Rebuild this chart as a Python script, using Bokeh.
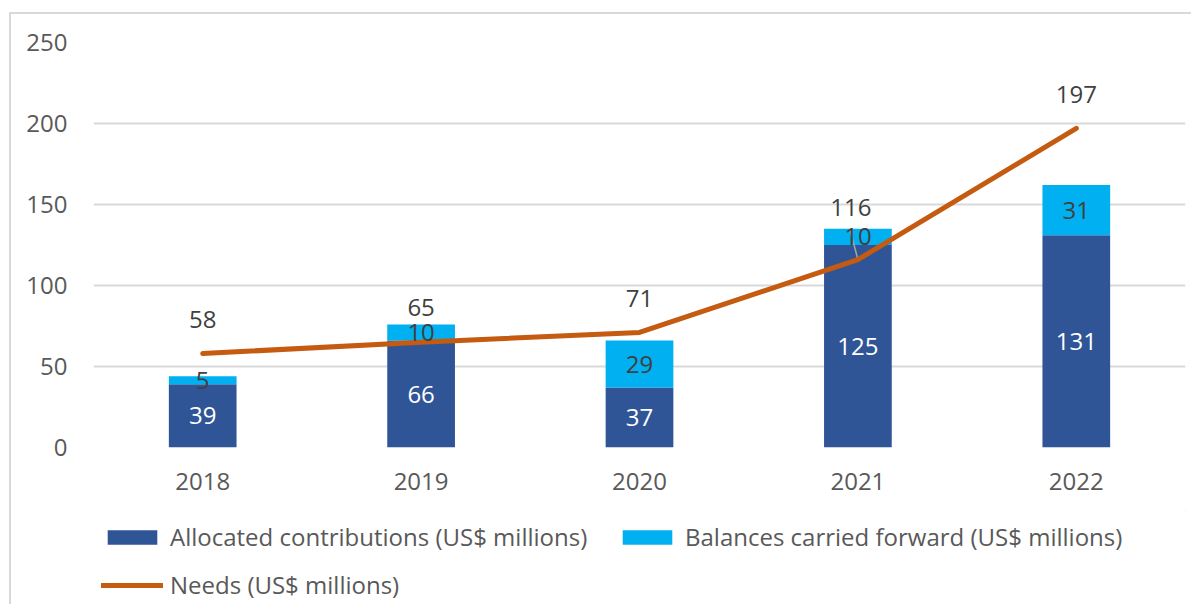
from bokeh.plotting import figure
from bokeh.layouts import column
from bokeh.models import ColumnDataSource, Legend, LegendItem, FixedTicker, Range1d
from bokeh.core.properties import value
from bokeh.embed import file_html
from bokeh.resources import INLINE

years = ["2018", "2019", "2020", "2021", "2022"]
allocated = [39, 66, 37, 125, 131]
balances = [5, 10, 29, 10, 31]
needs = [58, 65, 71, 116, 197]
y_ticks = [0, 50, 100, 150, 200, 250]
labels = ["Allocated contributions (US$ millions)",
          "Balances carried forward (US$ millions)",
          "Needs (US$ millions)"]

FONT = value("Open Sans")
DARK = "#2F5597"
LIGHT = "#00B0F0"
ORANGE = "#C55A11"
TXT = "#404040"
AX = "#595959"

x = list(range(len(years)))
tops = [a + b for a, b in zip(allocated, balances)]

src = ColumnDataSource(dict(
    x=x, alloc=allocated, bal=balances, tops=tops, needs=needs,
    alloc_mid=[a / 2 for a in allocated],
    bal_mid=[a + b / 2 for a, b in zip(allocated, balances)],
    alloc_txt=[str(v) for v in allocated],
    bal_txt=[str(v) for v in balances],
    needs_txt=[str(v) for v in needs],
    nx_off=[0, 0, 0, -7, 0],
    ny_off=[-34, -35, -34, -52, -34],
))

p = figure(width=1180, height=496, x_range=Range1d(-0.5, 4.5), y_range=Range1d(0, 250),
           output_backend="svg", toolbar_location=None,
           min_border_left=82, min_border_right=6, min_border_top=28, min_border_bottom=63)
p.outline_line_color = None
p.background_fill_color = "white"
p.border_fill_color = "white"

p.vbar(x="x", bottom=0, top="alloc", width=0.31, source=src, fill_color=DARK, line_color=None)
p.vbar(x="x", bottom="alloc", top="tops", width=0.31, source=src, fill_color=LIGHT, line_color=None)

# leader line for 2021 needs label
p.segment(x0=[x[3] - 0.037], y0=[tops[3]], x1=[x[3]], y1=[needs[3]],
          line_color="#A6A6A6", line_width=1.5)

p.line(x="x", y="needs", source=src, line_color=ORANGE, line_width=5,
       line_cap="round", line_join="round")

p.text(x="x", y="alloc_mid", text="alloc_txt", source=src, text_align="center",
       text_baseline="middle", text_color="white", text_font=FONT, text_font_size="24px")
p.text(x="x", y="bal_mid", text="bal_txt", source=src, text_align="center",
       text_baseline="middle", text_color=TXT, text_font=FONT, text_font_size="24px")
p.text(x="x", y="needs", text="needs_txt", source=src, text_align="center",
       text_baseline="middle", text_color=TXT, text_font=FONT, text_font_size="24px",
       x_offset="nx_off", y_offset="ny_off")

p.xgrid.grid_line_color = None
p.ygrid.grid_line_color = "#D9D9D9"
p.ygrid.grid_line_width = 2
p.yaxis.ticker = FixedTicker(ticks=y_ticks)
p.xaxis.ticker = FixedTicker(ticks=x)
p.xaxis.major_label_overrides = {i: y for i, y in zip(x, years)}
for ax in (p.xaxis, p.yaxis):
    ax.axis_line_color = None
    ax.major_tick_line_color = None
    ax.minor_tick_line_color = None
    ax.major_label_text_font = "Open Sans"
    ax.major_label_text_font_size = "24px"
    ax.major_label_text_color = AX
p.yaxis.major_label_standoff = 20
p.xaxis.major_label_standoff = 19

# legend figure (its swatch glyphs sit outside its visible range)
lf = figure(width=1180, height=94, x_range=Range1d(0, 1), y_range=Range1d(0, 1),
            output_backend="svg", toolbar_location=None,
            min_border_left=82, min_border_right=6, min_border_top=0, min_border_bottom=0)
lf.axis.visible = False
lf.grid.visible = False
lf.outline_line_color = None
lf.background_fill_color = "white"
lf.border_fill_color = "white"
l1 = lf.vbar(x=[5], top=[5], bottom=[4], width=0.1, fill_color=DARK, line_color=None)
l2 = lf.vbar(x=[5], top=[5], bottom=[4], width=0.1, fill_color=LIGHT, line_color=None)
l3 = lf.line(x=[5, 6], y=[5, 6], line_color=ORANGE, line_width=5, line_cap="round")

legend = Legend(items=[
    LegendItem(label=labels[0], renderers=[l1]),
    LegendItem(label=labels[1], renderers=[l2]),
    LegendItem(label=labels[2], renderers=[l3]),
], orientation="horizontal", ncols=2, location=(8, 3),
    glyph_width=62, glyph_height=18, label_standoff=7, label_width=431,
    spacing=15, padding=0, margin=0, border_line_color=None,
    background_fill_alpha=0, label_text_font="Open Sans",
    label_text_font_size="24px", label_text_color=AX)
lf.add_layout(legend, "center")

layout = column(p, lf, spacing=0, margin=(12, 0, 0, 9),
                styles={"border-left": "2px solid #D9D9D9", "border-top": "2px solid #D9D9D9"})

open("out.html", "w").write(file_html(layout, INLINE))
